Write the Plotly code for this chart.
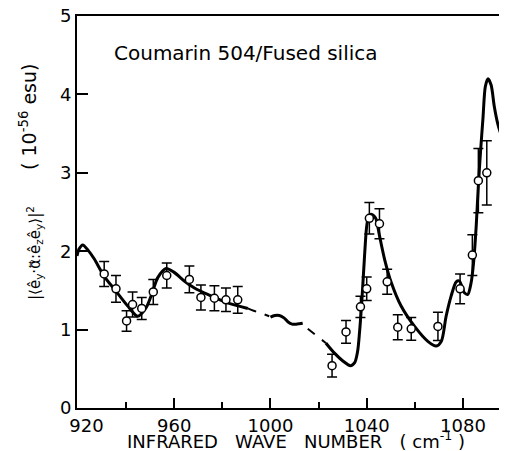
import plotly.graph_objects as go

# Experimental points (wave number, value, error)
exp_x = [930.9, 935.8, 940.2, 942.7, 946.5, 951.3, 956.9, 966.3, 971.1, 976.7, 981.5, 986.4,
         1025.6, 1031.4, 1037.4, 1040.0, 1041.1, 1045.3, 1048.5, 1052.9, 1058.5, 1069.6,
         1078.8, 1083.9, 1086.4, 1089.9]
exp_y = [1.71, 1.52, 1.11, 1.32, 1.27, 1.48, 1.69, 1.64, 1.41, 1.40, 1.38, 1.38,
         0.54, 0.97, 1.29, 1.52, 2.42, 2.35, 1.61, 1.03, 1.01, 1.04,
         1.52, 1.95, 2.90, 3.00]
exp_err = [0.16, 0.17, 0.13, 0.16, 0.14, 0.16, 0.16, 0.17, 0.16, 0.16, 0.15, 0.17,
           0.145, 0.145, 0.135, 0.15, 0.20, 0.19, 0.16, 0.16, 0.145, 0.18,
           0.19, 0.26, 0.41, 0.41]

# Theoretical curve, in segments (solid / dashed)
curveA_x = [919.6, 920.5, 922, 924, 926.8, 930.9, 935.8, 940.7, 944.8, 948.3, 951.1, 953.1,
            956.6, 960.0, 964.2, 968.4, 975.3, 982.2, 990.6]
curveA_y = [1.94, 2.03, 2.08, 2.02, 1.90, 1.68, 1.49, 1.30, 1.17, 1.28, 1.49, 1.66,
            1.78, 1.73, 1.62, 1.53, 1.43, 1.34, 1.27]
curveB_x = [990.6, 993, 996, 999.5]
curveB_y = [1.27, 1.24, 1.21, 1.17]
curveC_x = [1000, 1001.8, 1003.7, 1005.6, 1007.2, 1009.0, 1011.0, 1013.4]
curveC_y = [1.16, 1.18, 1.18, 1.15, 1.10, 1.07, 1.07, 1.08]
curveD_x = [1015.5, 1018, 1020.5, 1023]
curveD_y = [1.01, 0.95, 0.89, 0.83]
curveE_x = [1023, 1026.6, 1030.1, 1033.2, 1035.0, 1036.2, 1037.0, 1038.0, 1039.1, 1040.0,
            1040.9, 1041.8, 1043.0, 1043.9, 1045.3, 1047.4, 1050.2, 1054.3, 1059.9, 1065.4,
            1068.9, 1071.0, 1073.0, 1075.1, 1077.2, 1078.5, 1080.6, 1082.0, 1083.4, 1084.4,
            1085.5, 1086.4, 1087.3, 1088.3, 1089.3, 1090.4, 1091.7, 1093.0, 1094.5, 1096.5,
            1098.3]
curveE_y = [0.83, 0.70, 0.60, 0.54, 0.58, 0.72, 0.96, 1.38, 1.94, 2.32,
            2.45, 2.47, 2.45, 2.41, 2.20, 1.90, 1.60, 1.30, 1.04, 0.85,
            0.79, 0.85, 1.17, 1.43, 1.61, 1.62, 1.47, 1.45, 1.60, 1.85,
            2.32, 2.84, 3.27, 3.69, 4.10, 4.20, 4.12, 3.85, 3.62, 3.42,
            3.23]

x_range = [919.6, 1098.3]
x_tickvals = [920, 960, 1000, 1040, 1080]
x_ticktext = ["\u00a0\u00a0\u00a0920", "960", "1000", "1040", "1080"]
x_minor_tickvals = [940, 980, 1020, 1060]
y_tickvals = [0, 1, 2, 3, 4, 5]

FONT = "DejaVu Sans"
fig = go.Figure()

def seg(xs, ys, dash, w=3):
    fig.add_trace(go.Scatter(x=xs, y=ys, mode="lines",
                             line=dict(color="black", width=w, dash=dash, shape="spline", smoothing=0.8),
                             showlegend=False, hoverinfo="skip"))

seg(curveA_x, curveA_y, "solid")
seg(curveB_x, curveB_y, "dash", 2)
seg(curveC_x, curveC_y, "solid")
seg(curveD_x, curveD_y, "dash", 2)
seg(curveE_x, curveE_y, "solid")

fig.add_trace(go.Scatter(
    x=exp_x, y=exp_y, mode="markers",
    marker=dict(symbol="circle", size=8, color="white", line=dict(color="black", width=1.5)),
    error_y=dict(type="data", array=exp_err, visible=True, color="black", thickness=1.5, width=5),
    showlegend=False))

# The page body keeps its default 8px margin, so the figure is 8px smaller and offset.
fig.update_layout(
    width=499, height=443,
    margin=dict(l=69, r=0, t=8, b=43),
    paper_bgcolor="white", plot_bgcolor="white",
    font=dict(family=FONT, size=18, color="black"),
    xaxis=dict(range=x_range, tickvals=x_tickvals, ticktext=x_ticktext,
               ticks="inside", ticklen=10, automargin=False,
               tickwidth=1.5, tickcolor="black", showline=True, linecolor="black", linewidth=2,
               mirror=True, showgrid=False, zeroline=False,
               minor=dict(tickvals=x_minor_tickvals, ticks="inside", ticklen=6,
                          tickwidth=1.5, tickcolor="black", showgrid=False),
               tickfont=dict(family=FONT, size=18)),
    yaxis=dict(range=[0, 5], tickvals=y_tickvals, ticks="inside", ticklen=11, tickwidth=1.5,
               automargin=False, ticklabeloverflow="allow",
               tickcolor="black", showline=True, linecolor="black", linewidth=2,
               showgrid=False, zeroline=False, tickfont=dict(family=FONT, size=18)),
)

fig.add_annotation(text="INFRARED   WAVE   NUMBER   ( cm<sup>-1</sup> )", xref="paper", yref="paper",
                   x=(296 - 77) / 430, y=(408 - 440) / 392, xanchor="center", yanchor="middle",
                   showarrow=False, font=dict(family=FONT, size=18))
fig.add_annotation(text="Coumarin 504/Fused silica", xref="paper", yref="y",
                   x=(112 - 77) / 430, y=(408 - 53) / 78.4, xanchor="left", yanchor="middle",
                   showarrow=False, font=dict(family=FONT, size=20))
fig.add_annotation(text="( 10<sup>-56</sup> esu)", xref="paper", yref="y",
                   x=(28 - 77) / 430, y=(408 - 117) / 78.4, textangle=-90,
                   xanchor="center", yanchor="middle", showarrow=False,
                   font=dict(family=FONT, size=19))
fig.add_annotation(text="|\u27e8ê<sub>y</sub>·α\u20e1:ê<sub>z</sub>ê<sub>y</sub>\u27e9|<sup>2</sup>",
                   xref="paper", yref="y",
                   x=(34 - 77) / 430, y=(408 - 253) / 78.4, textangle=-90,
                   xanchor="center", yanchor="middle", showarrow=False,
                   font=dict(family=FONT, size=15))

fig.write_html("out.html")
